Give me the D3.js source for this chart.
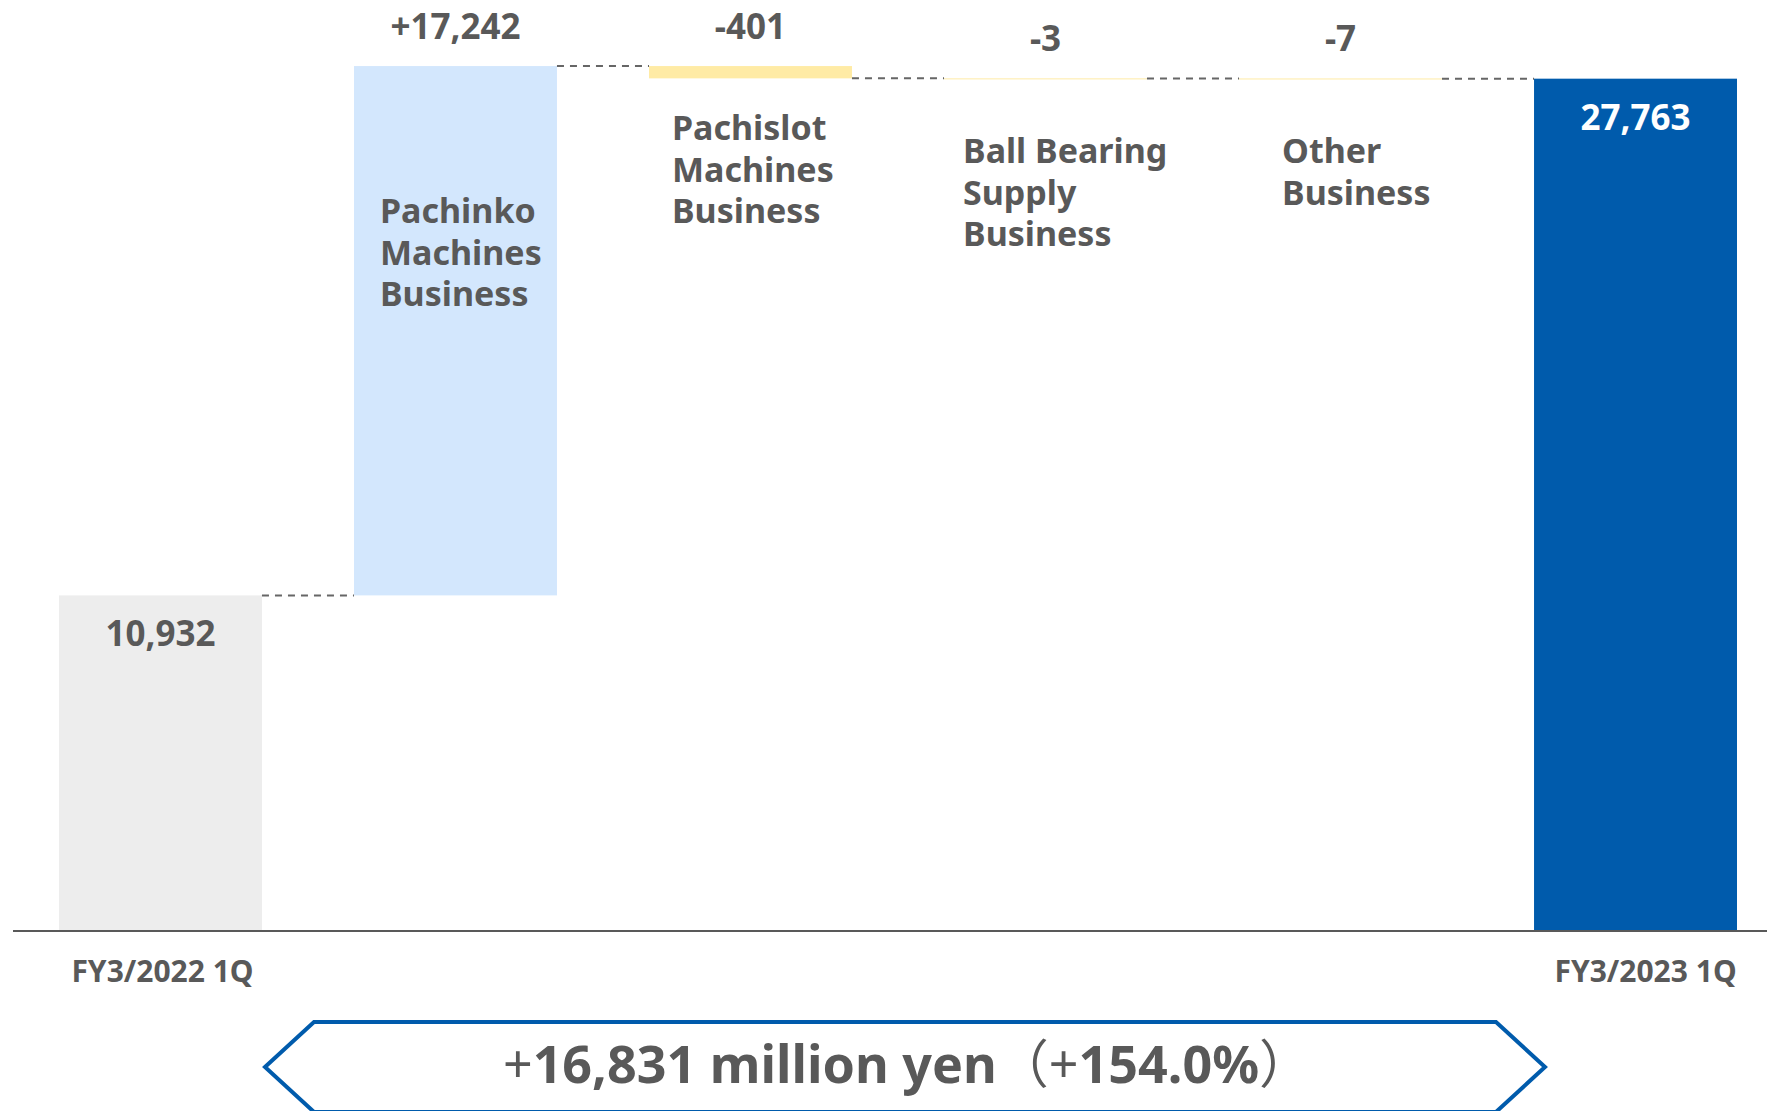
<!DOCTYPE html>
<html>
<head>
<meta charset="utf-8">
<script src="https://cdn.jsdelivr.net/npm/d3@7"></script>
<style>
    html, body { margin: 0; padding: 0; background: #ffffff; }
    svg { display: block; }
    text { font-family: "Noto Sans", "Open Sans", "Noto Sans CJK JP", sans-serif; }
</style>
</head>
<body>
<svg id="chart" width="1767" height="1111"></svg>
<script>
// DATA
var categories = ["FY3/2022 1Q", "Pachinko", "Pachislot", "Ball Bearing", "Other", "FY3/2023 1Q"];
var barKinds = ["total", "delta", "delta", "delta", "delta", "total"];
var values = [10932, 17242, -401, -3, -7, 27763];
var valueLabels = ["10,932", "+17,242", "-401", "-3", "-7", "27,763"];
var categoryLines = [
    [],
    ["Pachinko", "Machines", "Business"],
    ["Pachislot", "Machines", "Business"],
    ["Ball Bearing", "Supply", "Business"],
    ["Other", "Business"],
    []
];
var axisLabels = ["FY3/2022 1Q", "", "", "", "", "FY3/2023 1Q"];
var changeAmount = "16,831";
var changePercent = "154.0";

// LAYOUT / STYLE
var textGray = "#595959";
var colors = { start: "#ededed", up: "#d3e7fd", down: "#ffeba5", end: "#005bac" };
var labelPlace = [null, {dx: 26, y: 223}, {dx: 23, y: 140}, {dx: 19, y: 163}, {dx: 43, y: 163}, null];
var axisShift = [2, 0, 0, 0, 0, 10];

var svg = d3.select("#chart");

var x = d3.scaleBand()
    .domain(categories)
    .range([59, 1737])
    .paddingInner(0.312)
    .paddingOuter(0);

var y = d3.scaleLinear()
    .domain([0, 30000])
    .range([931, 10]);

// build waterfall steps
var steps = [];
var running = 0;
for (let i = 0; i < values.length; i++) {
    var s = {cat: categories[i], kind: barKinds[i], label: valueLabels[i], idx: i};
    if (barKinds[i] === "total") {
        s.from = 0;
        s.to = values[i];
        running = values[i];
    } else {
        s.from = running;
        s.to = running + values[i];
        running = s.to;
    }
    steps.push(s);
}

function barColor(d) {
    if (d.kind === "total") return d.idx === 0 ? colors.start : colors.end;
    return d.to >= d.from ? colors.up : colors.down;
}

// BARS
svg.append("g").selectAll("rect")
    .data(steps)
    .join("rect")
    .attr("x", d => x(d.cat))
    .attr("width", x.bandwidth())
    .attr("y", d => y(Math.max(d.from, d.to)))
    .attr("height", d => Math.max(1, Math.abs(y(d.from) - y(d.to))))
    .attr("fill", barColor);

// CONNECTORS
var connectors = steps.slice(0, -1).map(function(d, i) {
    return {x1: x(d.cat) + x.bandwidth(), x2: x(steps[i + 1].cat), v: d.to};
});
svg.append("g").selectAll("line")
    .data(connectors)
    .join("line")
    .attr("x1", d => d.x1)
    .attr("x2", d => d.x2)
    .attr("y1", d => y(d.v))
    .attr("y2", d => y(d.v))
    .attr("stroke", "#666666")
    .attr("stroke-width", 2)
    .attr("stroke-dasharray", "7,6");

// AXIS LINE
var xAxis = d3.axisBottom(x).tickSize(0).tickFormat((d, i) => axisLabels[i]);
var axisG = svg.append("g")
    .attr("transform", "translate(0," + y(0) + ")")
    .call(xAxis);
axisG.select(".domain").remove();
axisG.selectAll("text")
    .attr("dy", null)
    .attr("y", 51)
    .attr("x", (d, i) => axisShift[i])
    .attr("font-size", 30)
    .attr("font-weight", "bold")
    .attr("fill", textGray)
    .style("font-family", "'Noto Sans', sans-serif");
svg.append("line")
    .attr("x1", 13).attr("x2", 1767)
    .attr("y1", y(0)).attr("y2", y(0))
    .attr("stroke", textGray)
    .attr("stroke-width", 2);

// VALUE LABELS
svg.append("g").selectAll("text")
    .data(steps)
    .join("text")
    .attr("x", d => x(d.cat) + x.bandwidth() / 2)
    .attr("y", d => d.kind === "total" ? y(d.to) + 51 : y(Math.max(d.from, d.to)) - 27)
    .attr("text-anchor", "middle")
    .attr("font-size", 35)
    .attr("font-weight", "bold")
    .attr("fill", d => d.idx === steps.length - 1 ? "#ffffff" : textGray)
    .text(d => d.label);

// CATEGORY LABELS
steps.forEach(function(d, i) {
    if (!labelPlace[i]) return;
    var t = svg.append("text")
        .attr("x", x(d.cat) + labelPlace[i].dx)
        .attr("y", labelPlace[i].y)
        .attr("font-size", 34)
        .attr("font-weight", "bold")
        .attr("fill", textGray);
    categoryLines[i].forEach(function(line, j) {
        t.append("tspan")
            .attr("x", x(d.cat) + labelPlace[i].dx)
            .attr("dy", j === 0 ? 0 : 41.5)
            .text(line);
    });
});

// SUMMARY BOX
var hex = [[265, 1067], [314, 1022], [1496, 1022], [1545, 1067], [1496, 1112], [314, 1112]];
svg.append("path")
    .attr("d", d3.line()(hex) + "Z")
    .attr("fill", "none")
    .attr("stroke", "#005bac")
    .attr("stroke-width", 4)
    .attr("stroke-linejoin", "miter");

var summary = svg.append("text")
    .attr("x", 907)
    .attr("y", 1083)
    .attr("text-anchor", "middle")
    .attr("font-size", 52)
    .attr("font-weight", "bold")
    .attr("fill", textGray);
summary.append("tspan").attr("font-weight", "normal").text("+");
summary.append("tspan").text(changeAmount + " million yen");
summary.append("tspan").attr("font-weight", "normal").text("（");
summary.append("tspan").attr("font-weight", "normal").text("+");
summary.append("tspan").text(changePercent + "%");
summary.append("tspan").attr("font-weight", "normal").text("）");
</script>
</body>
</html>
